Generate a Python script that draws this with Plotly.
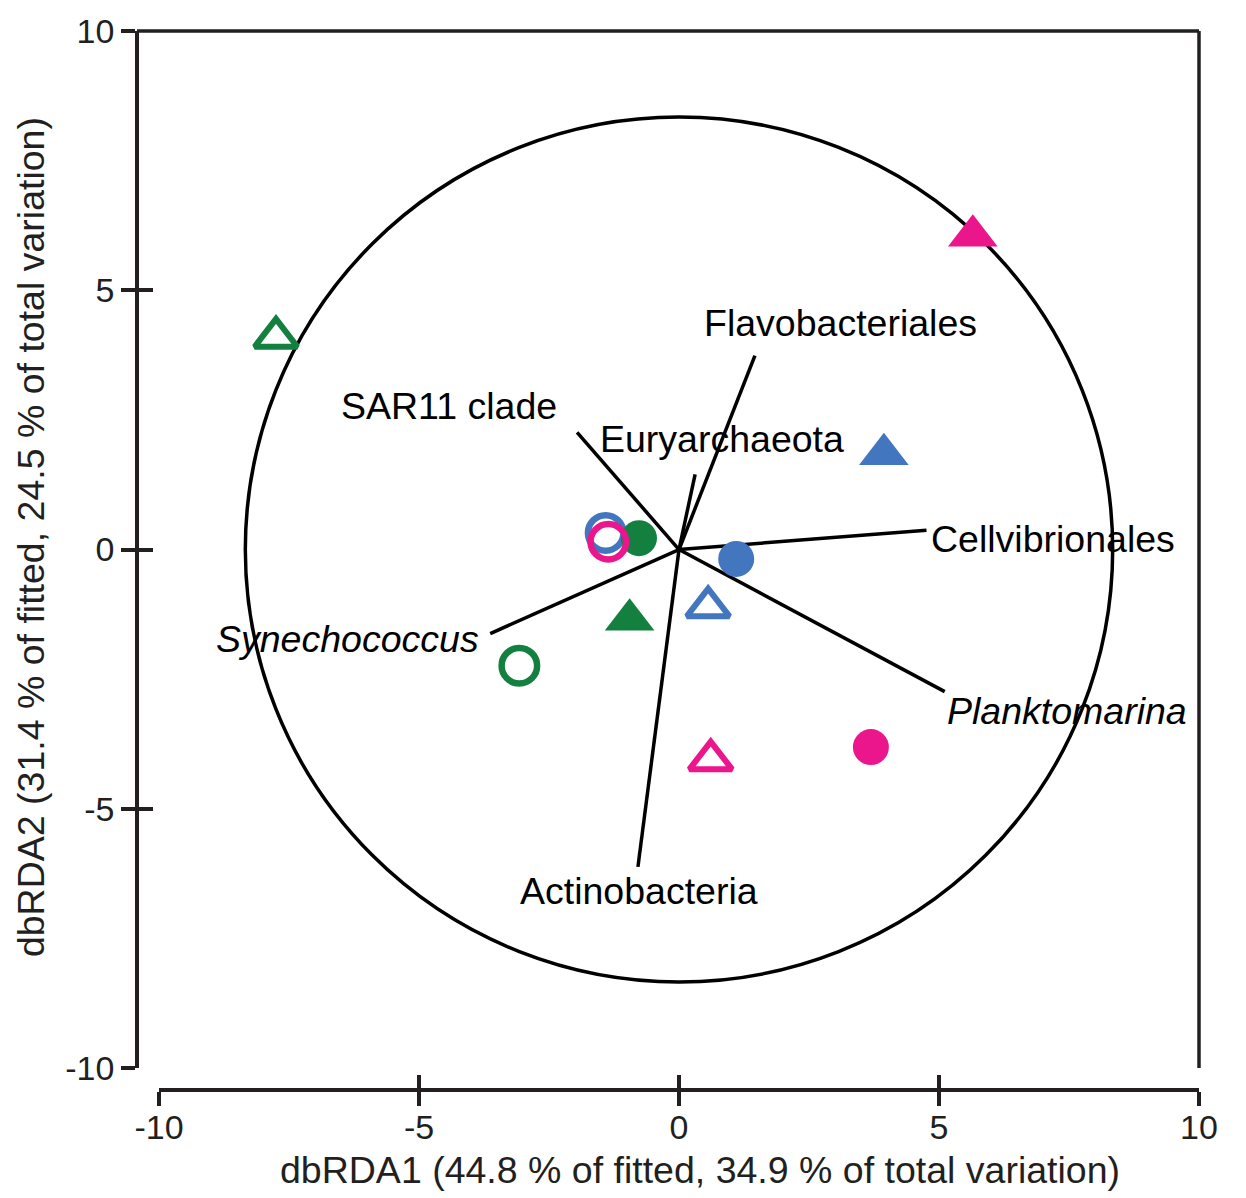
import plotly.graph_objects as go

# ---- data ----
sample_x = [-7.75, -3.07, -0.95, -0.77,   0.56, -1.41, 3.94, 1.10,   0.61, -1.36, 5.65, 3.69]
sample_y = [4.09, -2.24, -1.355, 0.22,   -1.11, 0.32, 1.84, -0.18,   -4.06, 0.15, 6.05, -3.81]
sample_color = ["green", "green", "green", "green",
                "blue", "blue", "blue", "blue",
                "magenta", "magenta", "magenta", "magenta"]
sample_symbol = ["triangle-up-open", "circle-open", "triangle-up", "circle",
                 "triangle-up-open", "circle-open", "triangle-up", "circle",
                 "triangle-up-open", "circle-open", "triangle-up", "circle"]

vector_names = ["Flavobacteriales", "SAR11 clade", "Euryarchaeota", "Cellvibrionales",
                "<i>Synechococcus</i>", "<i>Planktomarina</i>", "Actinobacteria"]
vector_x = [1.46, -1.96, 0.31, 4.76, -3.63, 5.11, -0.79]
vector_y = [3.74, 2.26, 1.45, 0.37, -1.62, -2.74, -6.12]
label_x = [3.10, -4.42, 0.83, 7.20, -6.37, 7.47, -0.76]
label_y = [4.37, 2.76, 2.14, 0.20, -1.72, -3.12, -6.58]

circle_radius = 8.34
tick_vals = [-10, -5, 0, 5, 10]
tick_text = ["-10", "-5", "0", "5", "10"]
x_title = "dbRDA1 (44.8 % of fitted, 34.9 % of total variation)"
y_title = "dbRDA2 (31.4 % of fitted, 24.5 % of total variation)"

# ---- styles ----
palette = {"green": "#138040", "blue": "#4277c0", "magenta": "#ec168c"}
size_map = {"circle": 36, "circle-open": 35.5, "triangle-up": 43, "triangle-up-open": 37}
width_map = {"circle": 0, "circle-open": 6.5, "triangle-up": 0, "triangle-up-open": 6}
ink = "#231f20"
font_family = "Liberation Sans, Arial, sans-serif"

fig = go.Figure()

# vectors
for vx, vy in zip(vector_x, vector_y):
    fig.add_trace(go.Scatter(x=[0, vx], y=[0, vy], mode="lines",
                             line=dict(color="black", width=3.5),
                             hoverinfo="skip", showlegend=False))

# samples, grouped by colour
for col in ["blue", "green", "magenta"]:
    idx = [i for i, c in enumerate(sample_color) if c == col]
    fig.add_trace(go.Scatter(
        x=[sample_x[i] for i in idx], y=[sample_y[i] for i in idx],
        mode="markers", cliponaxis=False, showlegend=False,
        marker=dict(symbol=[sample_symbol[i] for i in idx],
                    size=[size_map[sample_symbol[i]] for i in idx],
                    color=palette[col], opacity=1,
                    line=dict(color=palette[col],
                              width=[width_map[sample_symbol[i]] for i in idx]))))

# circle
fig.add_shape(type="circle", xref="x", yref="y",
              x0=-circle_radius, x1=circle_radius, y0=-circle_radius, y1=circle_radius,
              line=dict(color="black", width=3.5), layer="below")

# frame (top and right)
ydom0 = 22 / 1063
fig.add_shape(type="line", xref="paper", yref="paper", x0=0, x1=1, y0=1, y1=1,
              line=dict(color=ink, width=3.5))
fig.add_shape(type="line", xref="paper", yref="paper", x0=1, x1=1, y0=ydom0, y1=1,
              line=dict(color=ink, width=3.5))

# labels
for name, lx, ly in zip(vector_names, label_x, label_y):
    fig.add_annotation(x=lx, y=ly, xref="x", yref="y", text=name, showarrow=False,
                       xanchor="center", yanchor="middle",
                       font=dict(family=font_family, size=37.5, color="black"))

# axis titles
fig.add_annotation(x=(699.5 - 137) / 1062, y=(1090 - 1170) / 1063, xref="paper", yref="paper",
                   text=x_title, showarrow=False, xanchor="center", yanchor="middle",
                   font=dict(family=font_family, size=37.5, color=ink))
fig.add_annotation(x=(31 - 137) / 1062, y=(1090 - 535) / 1063, xref="paper", yref="paper",
                   text=y_title, textangle=-90, showarrow=False, xanchor="center", yanchor="middle",
                   font=dict(family=font_family, size=37.5, color=ink))

xdom = [22 / 1062, 1]
ydom = [ydom0, 1]
axis_common = dict(range=[-10, 10], tickvals=tick_vals, ticktext=tick_text,
                   showgrid=False, zeroline=False,
                   linecolor=ink, linewidth=3.5, tickcolor=ink, tickwidth=3.5,
                   tickfont=dict(family=font_family, size=34, color=ink))

fig.update_layout(
    width=1246, height=1198,
    margin=dict(l=137, r=47, t=27, b=108),
    paper_bgcolor="white", plot_bgcolor="white",
    showlegend=False,
    xaxis=dict(domain=xdom, anchor="free", position=0, showline=True,
               ticks="outside", ticklen=14, ticklabelstandoff=-8, **axis_common),
    yaxis=dict(domain=ydom, anchor="free", position=0, showline=True,
               ticks="outside", ticklen=14, **axis_common),
    xaxis2=dict(overlaying="x", anchor="free", position=0, side="bottom",
                showline=False, showticklabels=False, ticks="inside", ticklen=15,
                range=[-10, 10], tickvals=tick_vals, showgrid=False, zeroline=False,
                tickcolor=ink, tickwidth=3.5),
    yaxis2=dict(overlaying="y", anchor="free", position=0, side="left",
                showline=False, showticklabels=False, ticks="inside", ticklen=15,
                range=[-10, 10], tickvals=tick_vals, showgrid=False, zeroline=False,
                tickcolor=ink, tickwidth=3.5),
)
# invisible trace to activate overlay axes
fig.add_trace(go.Scatter(x=[0], y=[0], xaxis="x2", yaxis="y2", mode="markers",
                         marker=dict(opacity=0), hoverinfo="skip", showlegend=False))

fig.write_html("out.html")
